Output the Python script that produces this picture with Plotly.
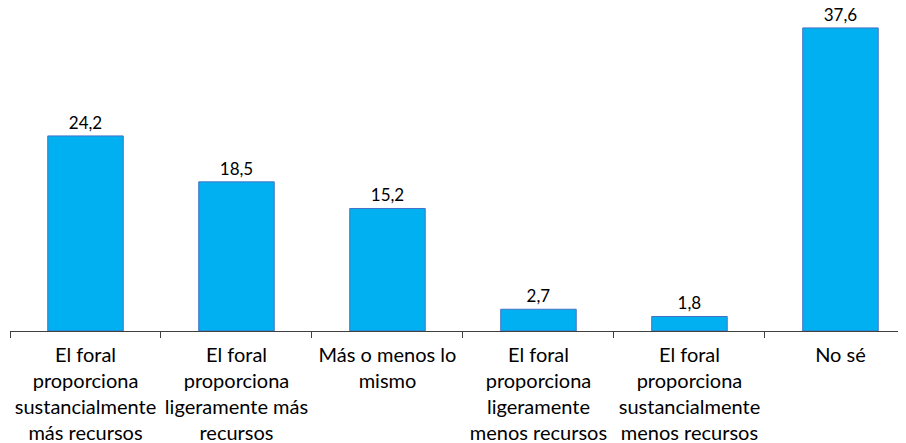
import plotly.graph_objects as go

categories = [
    "El foral<br>proporciona<br>sustancialmente<br>más recursos",
    "El foral<br>proporciona<br>ligeramente más<br>recursos",
    "Más o menos lo<br>mismo",
    "El foral<br>proporciona<br>ligeramente<br>menos recursos",
    "El foral<br>proporciona<br>sustancialmente<br>menos recursos",
    "No sé",
]
values = [24.2, 18.5, 15.2, 2.7, 1.8, 37.6]

fig = go.Figure()

fig.add_trace(go.Bar(
    x=categories,
    y=values,
    marker=dict(color="#00B0F0", line=dict(color="#4472C4", width=1)),
    texttemplate="%{y:.1f}",
    textposition="outside",
    textfont=dict(family="Lato, Calibri, sans-serif", size=17, color="#000000"),
    cliponaxis=False,
    width=0.5,
))

# page body has an 8px margin, so the figure is a bit smaller than the window
fig.update_layout(
    width=898,
    height=435,
    margin=dict(l=2, r=0, t=0, b=112),
    separators=",.",
    plot_bgcolor="white",
    paper_bgcolor="white",
    showlegend=False,
    font=dict(family="Lato, Calibri, sans-serif", size=20, color="#000000"),
    xaxis=dict(
        range=[-0.5, 5.434],
        automargin=False,
        showline=True,
        linecolor="#404040",
        linewidth=1,
        ticks="outside",
        tickson="boundaries",
        ticklen=6,
        tickcolor="#404040",
        showgrid=False,
        zeroline=False,
        tickangle=0,
        ticklabelstandoff=6,
    ),
    yaxis=dict(
        range=[0, 40.07],
        visible=False,
        automargin=False,
    ),
)

fig.write_html("out.html")
